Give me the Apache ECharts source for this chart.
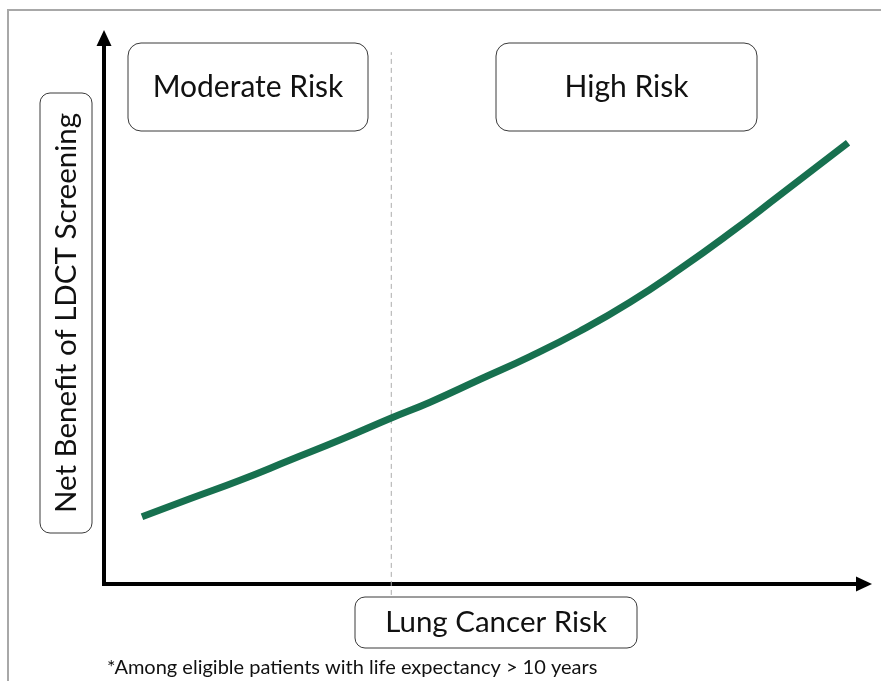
<!DOCTYPE html>
<html>
<head>
<meta charset="utf-8">
<script src="https://cdn.jsdelivr.net/npm/echarts@6/dist/echarts.min.js"></script>
<style>html,body{margin:0;padding:0;background:#fff}#c{width:881px;height:681px}</style>
</head>
<body>
<div id="c"></div>
<script>
// Curve: lung cancer risk (x) vs net benefit of LDCT screening (y), arbitrary 0-100 units
const riskX = [5.0, 11.3, 17.9, 24.5, 31.1, 37.8, 42.9, 49.5, 56.1, 62.6, 69.2, 75.8, 82.4, 88.9, 97.9];
const benefitY = [12.3, 15.6, 19.0, 22.7, 26.4, 30.4, 33.3, 37.5, 41.7, 46.3, 51.6, 57.7, 64.3, 71.2, 80.8];
// Threshold between moderate and high risk
const thresholdX = 37.8;
const thresholdSpan = [-2, 97.4];
const labels = {
  moderate: 'Moderate Risk',
  high: 'High Risk',
  yName: 'Net Benefit of LDCT Screening',
  xName: 'Lung Cancer Risk',
  note: '*Among eligible patients with life expectancy > 10 years'
};

const FONT = 'Lato, "Open Sans", sans-serif';
const chart = echarts.init(document.getElementById('c'), null, {renderer: 'canvas'});

function box(x, y, w, h, r, text, size, rot) {
  const els = [{
    type: 'rect', shape: {x: x, y: y, width: w, height: h, r: r},
    style: {fill: '#fff', stroke: '#3a3a3a', lineWidth: 1}, z: 10
  }];
  els.push({
    type: 'text', x: x + w / 2, y: y + h / 2, rotation: rot || 0,
    style: {text: text, font: size + 'px ' + FONT, fill: '#111', align: 'center', verticalAlign: 'middle'},
    z: 11
  });
  return els;
}

const option = {
  backgroundColor: '#fff',
  animation: false,
  grid: {left: 104, right: 17, top: 38, bottom: 97},
  xAxis: {
    type: 'value', min: 0, max: 100,
    axisLine: {show: true, lineStyle: {color: '#000', width: 4, cap: 'square'}, symbol: ['none', 'triangle'], symbolSize: [15, 16]},
    axisTick: {show: false}, axisLabel: {show: false}, splitLine: {show: false}
  },
  yAxis: {
    type: 'value', min: 0, max: 100,
    axisLine: {show: true, lineStyle: {color: '#000', width: 4, cap: 'square'}, symbol: ['none', 'triangle'], symbolSize: [15, 16]},
    axisTick: {show: false}, axisLabel: {show: false}, splitLine: {show: false}
  },
  series: [
    {
      type: 'line', smooth: true, symbol: 'none', clip: false,
      data: riskX.map((x, i) => [x, benefitY[i]]),
      lineStyle: {color: '#17704f', width: 7, cap: 'butt'}, z: 5
    },
    {
      type: 'line', symbol: 'none', clip: false,
      data: thresholdSpan.map(v => [thresholdX, v]),
      lineStyle: {color: '#ababab', width: 1, type: [5, 4]}, z: 1
    }
  ],
  graphic: [
    {type: 'polyline', shape: {points: [[8, 681], [8, 10], [881, 10]]}, style: {stroke: '#a8a8a8', lineWidth: 2, fill: null}},
    ...box(128, 43, 240, 88, 13, labels.moderate, 30),
    ...box(496, 43, 261, 88, 13, labels.high, 30),
    ...box(40, 93, 52, 440, 10, labels.yName, 29.5, Math.PI / 2),
    ...box(355, 597, 282, 51, 10, labels.xName, 29.5),
    {type: 'text', x: 107, y: 668, style: {text: labels.note, font: '20px ' + FONT, fill: '#111', align: 'left', verticalAlign: 'middle'}}
  ]
};
chart.setOption(option);
</script>
</body>
</html>
